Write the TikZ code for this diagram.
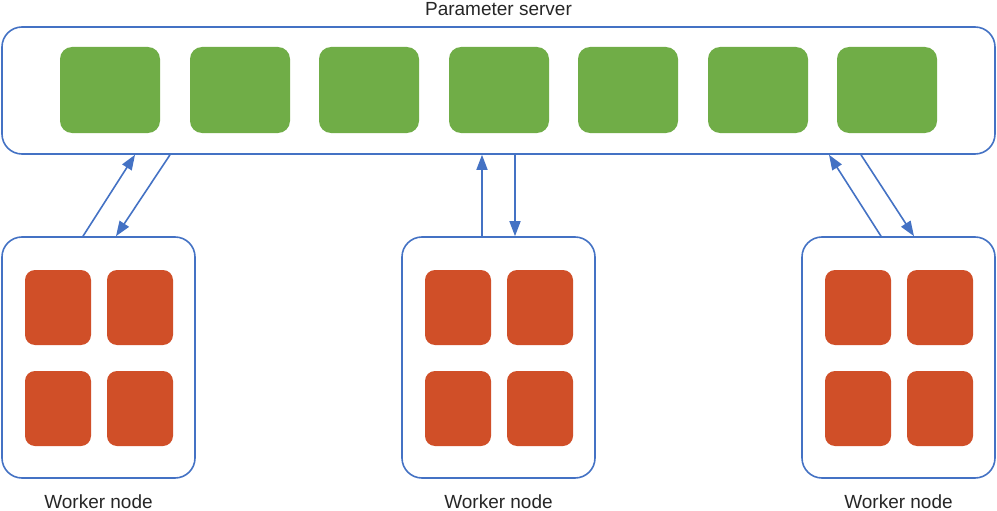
\documentclass[tikz,border=0pt]{standalone}
\usepackage{fontspec}
\setmainfont{Liberation Sans}
\usetikzlibrary{arrows.meta}
\definecolor{psgreen}{RGB}{112,173,71}
\definecolor{wred}{RGB}{208,79,40}
\definecolor{lineblue}{RGB}{68,114,196}
\definecolor{txt}{RGB}{38,38,38}
\begin{document}
\begin{tikzpicture}[x=1pt,y=-1pt,
  outer/.style={draw=lineblue,line width=1.6pt,rounded corners=20pt,fill=white,inner sep=0pt},
  gbox/.style={fill=psgreen,rounded corners=12pt,minimum width=100pt,minimum height=86pt,inner sep=0pt},
  rbox/.style={fill=wred,rounded corners=10pt,minimum width=66pt,minimum height=75pt,inner sep=0pt},
  lbl/.style={text=txt,font=\fontsize{19}{22}\selectfont,inner sep=0pt},
  conn/.style={draw=lineblue,line width=1.6pt,-{Triangle[length=15pt,width=11pt]}}]
\useasboundingbox (0,0) rectangle (997,511);
\node[outer,minimum width=993pt,minimum height=127pt] (ps) at (498.5,90.5) {};
\foreach \i/\x in {1/110,2/240,3/369,4/499,5/628,6/758,7/887}
  \node[gbox] (g\i) at (\x,90) {};
\node[lbl] (pslbl) at (498.5,9) {Parameter server};
\foreach \w/\x in {1/98.5,2/498.5,3/898.5}{
  \node[outer,minimum width=193pt,minimum height=241pt] (w\w) at (\x,357.5) {};
  \node[rbox] (r\w a) at ([xshift=-40.5pt,yshift=50pt]w\w.center) {};
  \node[rbox] (r\w b) at ([xshift=41.5pt,yshift=50pt]w\w.center) {};
  \node[rbox] (r\w c) at ([xshift=-40.5pt,yshift=-51pt]w\w.center) {};
  \node[rbox] (r\w d) at ([xshift=41.5pt,yshift=-51pt]w\w.center) {};
  \node[lbl] (wl\w) at (\x,501.5) {Worker node};
}
% left
\coordinate (a1s) at ([xshift=-15.5pt]w1.north);
\coordinate (a1e) at ([xshift=-363.5pt]ps.south);
\coordinate (b1s) at ([xshift=-328.5pt]ps.south);
\coordinate (b1e) at ([xshift=17.5pt]w1.north);
\draw[conn] (a1s) -- (a1e);
\draw[conn] (b1s) -- (b1e);
% middle
\coordinate (a2s) at ([xshift=-16.5pt]w2.north);
\coordinate (a2e) at ([xshift=-16.5pt]ps.south);
\coordinate (b2s) at ([xshift=16.5pt]ps.south);
\coordinate (b2e) at ([xshift=16.5pt]w2.north);
\draw[conn] (a2s) -- (a2e);
\draw[conn] (b2s) -- (b2e);
% right
\coordinate (a3s) at ([xshift=-17.5pt]w3.north);
\coordinate (a3e) at ([xshift=330.5pt]ps.south);
\coordinate (b3s) at ([xshift=362.5pt]ps.south);
\coordinate (b3e) at ([xshift=15.5pt]w3.north);
\draw[conn] (a3s) -- (a3e);
\draw[conn] (b3s) -- (b3e);
\end{tikzpicture}
\end{document}
